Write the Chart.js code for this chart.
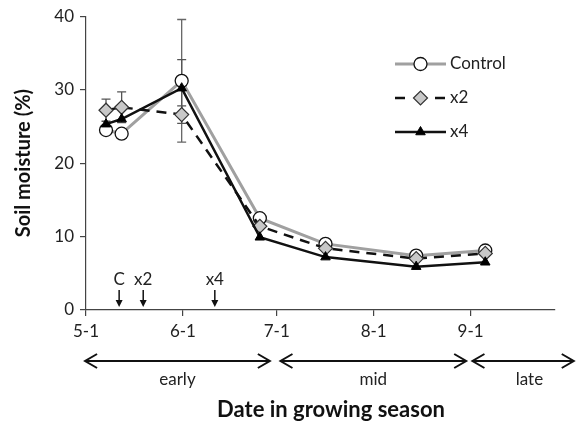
<!DOCTYPE html>
<html><head><meta charset="utf-8">
<script src="https://cdn.jsdelivr.net/npm/chart.js@4.4.1/dist/chart.umd.min.js"></script>
<style>html,body{margin:0;padding:0;background:#fff}#w{width:577px;height:424px}</style>
</head><body><div id="w"><canvas id="c" width="577" height="424"></canvas></div>
<script>
// Days since May 1 of each sampling date
const sampleDays = [6.4, 11.4, 30.6, 55.6, 76.6, 105.6, 127.7];
const controlVals = [24.5, 24.0, 31.2, 12.5, 9.0, 7.4, 8.1];
const x2Vals      = [27.2, 27.6, 26.6, 11.4, 8.4, 7.0, 7.7];
const x4Vals      = [25.3, 26.0, 30.2, 9.9, 7.2, 5.9, 6.5];
const controlErr  = [0, 0, 8.35, 0, 0, 0, 0];
const x2Err       = [1.5, 2.1, 1.2, 0, 0, 0, 0];
const x4Err       = [0, 0, 3.9, 0, 0, 0, 0];
const tickDays    = [0, 31, 61, 92, 123];
const tickLabels  = ['5-1', '6-1', '7-1', '8-1', '9-1'];
const yTicks      = [0, 10, 20, 30, 40];
const markerLabels = ['C', 'x2', 'x4'];
const markerDays   = [10.6, 18.3, 41.2];
const seasonLabels = ['early', 'mid', 'late'];
const seasonRanges = [[-0.3, 58.8], [62.2, 121.6], [123.6, 156]];

const FONT = 'Lato, "Open Sans", sans-serif';
const pts = v => v.map((y, i) => ({x: sampleDays[i], y}));

const datasets = [
  {label: 'Control', data: pts(controlVals), err: controlErr, borderColor: '#a0a0a0', borderWidth: 3,
   pointStyle: 'circle', pointRadius: 6.5, pointBackgroundColor: '#fff', pointBorderColor: '#111', pointBorderWidth: 1.3, order: 3, errColor: '#666'},
  {label: 'x2', data: pts(x2Vals), err: x2Err, borderColor: '#111', borderWidth: 2.5, borderDash: [10, 7],
   pointStyle: 'rectRot', pointRadius: 7, pointBackgroundColor: '#c8c8c8', pointBorderColor: '#333', pointBorderWidth: 1.2, order: 2, errColor: '#555'},
  {label: 'x4', data: pts(x4Vals), err: x4Err, borderColor: '#111', borderWidth: 2.5,
   pointStyle: 'triangle', pointRadius: 5.5, pointBackgroundColor: '#000', pointBorderColor: '#000', pointBorderWidth: 1, order: 1, errColor: '#555'}
];

const errorBars = {
  id: 'errorBars',
  beforeDatasetsDraw(chart) {
    const {ctx, scales: {x, y}} = chart;
    ctx.save();
    chart.data.datasets.forEach(ds => {
      ds.data.forEach((p, i) => {
        const e = ds.err[i];
        if (!e) return;
        const px = x.getPixelForValue(p.x);
        const t = y.getPixelForValue(p.y + e), b = y.getPixelForValue(p.y - e);
        ctx.strokeStyle = ds.errColor; ctx.lineWidth = 1.3;
        ctx.beginPath();
        ctx.moveTo(px, t); ctx.lineTo(px, b);
        ctx.moveTo(px - 4.5, t); ctx.lineTo(px + 4.5, t);
        ctx.moveTo(px - 4.5, b); ctx.lineTo(px + 4.5, b);
        ctx.stroke();
      });
    });
    ctx.restore();
  }
};

function drawMarker(ctx, ds, cx, cy) {
  ctx.save();
  ctx.fillStyle = ds.pointBackgroundColor; ctx.strokeStyle = ds.pointBorderColor; ctx.lineWidth = ds.pointBorderWidth;
  Chart.helpers.drawPoint(ctx, {pointStyle: ds.pointStyle, radius: ds.pointRadius, rotation: 0, borderWidth: ds.pointBorderWidth}, cx, cy);
  ctx.restore();
}

const extras = {
  id: 'extras',
  afterDraw(chart) {
    const {ctx, scales: {x, y}} = chart;
    ctx.save();
    // legend
    const lx0 = 395, lx1 = 446;
    datasets.forEach((ds, i) => {
      const ly = 64 + i * 34;
      ctx.strokeStyle = ds.borderColor; ctx.lineWidth = ds.borderWidth;
      ctx.setLineDash(ds.borderDash ? [10, 10] : []);
      ctx.beginPath(); ctx.moveTo(lx0, ly); ctx.lineTo(lx1, ly); ctx.stroke();
      ctx.setLineDash([]);
      drawMarker(ctx, ds, (lx0 + lx1) / 2, ly);
      ctx.fillStyle = '#222'; ctx.font = '17px ' + FONT; ctx.textBaseline = 'middle'; ctx.textAlign = 'left';
      ctx.fillText(ds.label, lx1 + 4, ly);
    });
    // treatment markers
    ctx.font = '17px ' + FONT; ctx.textAlign = 'center'; ctx.textBaseline = 'middle';
    markerLabels.forEach((lab, i) => {
      const px = x.getPixelForValue(markerDays[i]);
      ctx.fillStyle = '#222';
      ctx.fillText(lab, px, 280);
      ctx.strokeStyle = '#111'; ctx.lineWidth = 1.5;
      ctx.beginPath(); ctx.moveTo(px, 290); ctx.lineTo(px, 302); ctx.stroke();
      ctx.fillStyle = '#111';
      ctx.beginPath(); ctx.moveTo(px - 3.5, 300); ctx.lineTo(px + 3.5, 300); ctx.lineTo(px, 307); ctx.closePath(); ctx.fill();
    });
    // season arrows
    const ay = 361;
    ctx.strokeStyle = '#111'; ctx.lineWidth = 2;
    seasonRanges.forEach((r, i) => {
      const a = x.getPixelForValue(r[0]), b = x.getPixelForValue(r[1]);
      ctx.beginPath();
      ctx.moveTo(a, ay); ctx.lineTo(b, ay);
      ctx.moveTo(a + 12, ay - 7); ctx.lineTo(a, ay); ctx.lineTo(a + 12, ay + 7);
      ctx.moveTo(b - 12, ay - 7); ctx.lineTo(b, ay); ctx.lineTo(b - 12, ay + 7);
      ctx.stroke();
      ctx.fillStyle = '#222'; ctx.font = '17px ' + FONT; ctx.textAlign = 'center'; ctx.textBaseline = 'middle';
      const lx = i === 2 ? x.getPixelForValue(r[0]) + 57 : (a + b) / 2;
      ctx.fillText(seasonLabels[i], lx, 380);
    });
    // x title
    ctx.fillStyle = '#111'; ctx.font = 'bold 22px ' + FONT; ctx.textAlign = 'center'; ctx.textBaseline = 'middle';
    ctx.fillText('Date in growing season', 331, 410);
    ctx.restore();
  }
};

new Chart(document.getElementById('c'), {
  type: 'line',
  data: {datasets},
  options: {
    responsive: false, animation: false, devicePixelRatio: 1,
    layout: {padding: {top: 15, right: 22, left: 0, bottom: 0}},
    plugins: {legend: {display: false}, tooltip: {enabled: false}},
    elements: {line: {tension: 0}},
    scales: {
      x: {type: 'linear', min: 0, max: 150,
        afterBuildTicks: s => { s.ticks = tickDays.map(v => ({value: v})); },
        afterFit: s => { s.height = 114; },
        ticks: {callback: v => tickLabels[tickDays.indexOf(v)], color: '#222', font: {size: 17, family: FONT}, padding: 5, maxRotation: 0, autoSkip: false},
        grid: {drawOnChartArea: false, drawTicks: true, tickLength: 6, color: '#444', lineWidth: 1.2},
        border: {display: true, color: '#444', width: 1.2}
      },
      y: {min: 0, max: 40,
        afterBuildTicks: s => { s.ticks = yTicks.map(v => ({value: v})); },
        afterFit: s => { s.width = 86; },
        ticks: {color: '#222', font: {size: 17, family: FONT}, padding: 6},
        grid: {drawOnChartArea: false, drawTicks: true, tickLength: 6, color: '#444', lineWidth: 1.2},
        border: {display: true, color: '#444', width: 1.2},
        title: {display: true, text: 'Soil moisture (%)', color: '#111', font: {size: 20, weight: 'bold', family: FONT}, padding: {top: 12, bottom: 0}}
      }
    }
  },
  plugins: [errorBars, extras]
});
</script></body></html>
